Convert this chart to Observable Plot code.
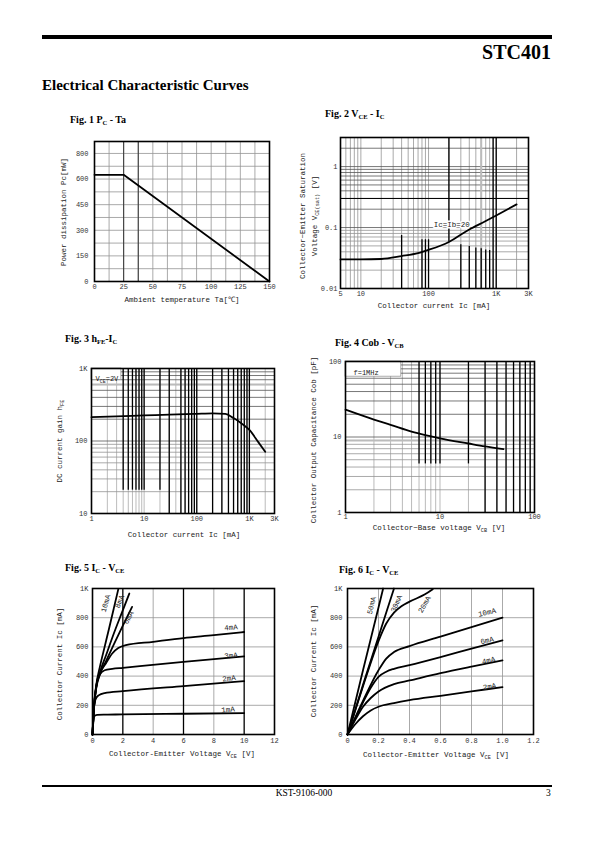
<!DOCTYPE html>
<html><head><meta charset="utf-8">
<script src="https://cdn.jsdelivr.net/npm/d3@7"></script>
<script src="https://cdn.jsdelivr.net/npm/@observablehq/plot@0.6"></script>
<style>
body{margin:0;background:#fff;}
#page{position:relative;width:595px;height:842px;overflow:hidden;font-family:"Liberation Serif",serif;color:#000;background:#fff;}
.abs{position:absolute;white-space:nowrap;line-height:1;}
.bar{position:absolute;background:#000;}
.fig{font-weight:bold;font-size:10px;}
.fig sub{font-size:65%;vertical-align:baseline;position:relative;top:2px;}
.at{font-family:"Liberation Mono","DejaVu Sans Mono",monospace;font-size:7.5px;color:#222;transform:translate(-50%,-50%);}
.at.r{transform:translate(-50%,-50%) rotate(-90deg);}
.at sub{font-size:70%;vertical-align:baseline;position:relative;top:1.5px;}
</style></head>
<body><div id="page"></div>
<script>
// ---------- Fig 1  Pc - Ta ----------
const fig1Ta = [0, 25, 150];
const fig1Pc = [625, 625, 0];
const fig1XTicks = [0, 25, 50, 75, 100, 125, 150];
const fig1XLabels = ["0", "25", "50", "75", "100", "125", "150"];
const fig1YTicks = [0, 150, 300, 450, 600, 750];
const fig1YLabels = ["0", "150", "300", "450", "600", "800"];

// ---------- Fig 2  VCE(sat) - IC ----------
const fig2Ic = [5, 10, 20, 40, 70, 100, 200, 400, 700, 1000, 2000];
const fig2Vce = [0.030, 0.030, 0.0305, 0.034, 0.038, 0.043, 0.058, 0.093, 0.128, 0.158, 0.24];
const fig2XTicks = [5, 10, 100, 1000, 3000];
const fig2XLabels = ["5", "10", "100", "1K", "3K"];
const fig2YTicks = [0.01, 0.1, 1];
const fig2YLabels = ["0.01", "0.1", "1"];
const fig2CurveLabel = ["Ic=Ib=20"];
const fig2CurveLabelIc = [220];
const fig2CurveLabelV = [0.112];
const fig2HeavyX = [40, 80, 90, 100, 200, 300, 400, 500, 600, 700, 800, 900, 1000];
const fig2HeavyLo = [0.01, 0.01, 0.01, 0.01, 0.058, 0.01, 0.01, 0.01, 0.01, 0.01, 0.01, 0.01, 0.01];
const fig2HeavyHi = [0.074, 0.063, 0.063, 0.063, 3, 0.052, 0.049, 0.046, 0.045, 0.043, 0.042, 3, 3];

// ---------- Fig 3  hFE - IC ----------
const fig3Ic = [1, 3, 10, 30, 100, 200, 350, 500, 700, 1000, 1500, 2000];
const fig3Hfe = [213, 218, 225, 231, 237, 240, 237, 207, 176, 142, 95, 71];
const fig3XTicks = [1, 10, 100, 1000, 3000];
const fig3XLabels = ["1", "10", "100", "1K", "3K"];
const fig3YTicks = [10, 100, 1000];
const fig3YLabels = ["10", "100", "1K"];
const fig3Note = ["V{CE}=2V"];
const fig3BoxX = [1, 3.7];
const fig3BoxY = [690, 1000];
const fig3HeavyPartialX = [4, 5, 6, 7, 8, 9, 10, 20];
const fig3HeavyFullX = [30, 50, 60, 70, 80, 90, 100, 200, 300, 400, 500, 600, 700, 800, 900, 1000];

// ---------- Fig 4  Cob - VCB ----------
const fig4Vcb = [1, 2, 3, 5, 7, 10, 20, 30, 47];
const fig4Cob = [23, 17, 14.5, 11.8, 10.6, 9.6, 8.2, 7.5, 6.9];
const fig4XTicks = [1, 10, 100];
const fig4XLabels = ["1", "10", "100"];
const fig4YTicks = [1, 10, 100];
const fig4YLabels = ["1", "10", "100"];
const fig4Note = ["f=1MHz"];
const fig4BoxX = [1, 3.9];
const fig4BoxY = [63, 100];
const fig4HeavyPartialX = [6, 7, 8, 9, 10, 20];
const fig4HeavyFullX = [30, 40, 50, 60, 70, 80, 90];

// ---------- Fig 5  IC - VCE (0..12 V) ----------
const fig5Series = ["1mA", "2mA", "3mA", "4mA", "6mA", "8mA", "10mA"];
const fig5Vce = [
  [0, 0.05, 0.12, 0.3, 1, 2, 6, 10],
  [0, 0.05, 0.1, 0.2, 0.4, 0.8, 2, 6, 10],
  [0, 0.1, 0.2, 0.3, 0.45, 0.8, 1.3, 2, 6, 10],
  [0, 0.1, 0.25, 0.5, 0.9, 1.3, 1.7, 2.2, 4, 6, 8, 10],
  [0, 0.1, 0.25, 0.5, 0.9, 1.4, 2.0, 2.61],
  [0, 0.1, 0.25, 0.5, 0.9, 1.4, 1.9, 2.43],
  [0, 0.1, 0.25, 0.5, 0.8, 1.1, 1.4, 1.7]
];
const fig5Ic = [
  [0, 80, 125, 135, 136, 138, 142, 147],
  [0, 120, 190, 240, 268, 284, 297, 332, 365],
  [0, 180, 290, 360, 405, 440, 450, 457, 497, 535],
  [0, 190, 325, 420, 490, 555, 592, 612, 635, 660, 680, 702],
  [0, 190, 320, 415, 505, 615, 745, 874],
  [0, 190, 335, 430, 545, 690, 825, 966],
  [0, 195, 340, 470, 600, 730, 862, 995]
];
const fig5XTicks = [0, 2, 4, 6, 8, 10, 12];
const fig5XLabels = ["0", "2", "4", "6", "8", "10", "12"];
const fig5YTicks = [0, 200, 400, 600, 800, 1000];
const fig5YLabels = ["0", "200", "400", "600", "800", "1K"];
const fig5LabelText = ["10mA", "8mA", "6mA", "4mA", "3mA", "2mA", "1mA"];
const fig5LabelV = [0.87, 1.79, 2.38, 9.13, 9.13, 9.0, 8.93];
const fig5LabelI = [897, 911, 801, 733, 541, 384, 171];
const fig5LabelRot = [-74, -68, -62, -6, -6, -6, -5];

// ---------- Fig 6  IC - VCE (0..1.2 V) ----------
const fig6Series = ["2mA", "4mA", "6mA", "10mA", "20mA", "30mA", "50mA"];
const fig6Vce = [
  [0, 0.05, 0.1, 0.15, 0.2, 0.3, 0.4, 0.6, 0.8, 1.0],
  [0, 0.05, 0.1, 0.15, 0.2, 0.3, 0.4, 0.6, 0.8, 1.0],
  [0, 0.05, 0.1, 0.15, 0.2, 0.25, 0.3, 0.4, 0.6, 0.8, 1.0],
  [0, 0.1, 0.2, 0.25, 0.3, 0.4, 0.6, 0.8, 1.0],
  [0, 0.1, 0.2, 0.25, 0.3, 0.35, 0.4, 0.5, 0.55],
  [0, 0.1, 0.2, 0.3],
  [0, 0.1, 0.2, 0.23]
];
const fig6Ic = [
  [0, 70, 125, 165, 190, 215, 235, 265, 295, 325],
  [0, 100, 190, 250, 295, 345, 370, 420, 465, 508],
  [0, 110, 220, 320, 395, 430, 450, 475, 530, 588, 645],
  [0, 230, 440, 520, 565, 605, 670, 735, 800],
  [0, 330, 640, 760, 835, 880, 910, 960, 995],
  [0, 340, 670, 1000],
  [0, 440, 870, 1000]
];
const fig6XTicks = [0, 0.2, 0.4, 0.6, 0.8, 1.0, 1.2];
const fig6XLabels = ["0", "0.2", "0.4", "0.6", "0.8", "1.0", "1.2"];
const fig6YTicks = [0, 200, 400, 600, 800, 1000];
const fig6YLabels = ["0", "200", "400", "600", "800", "1K"];
const fig6LabelText = ["50mA", "30mA", "20mA", "10mA", "6mA", "4mA", "2mA"];
const fig6LabelV = [0.155, 0.316, 0.497, 0.90, 0.90, 0.91, 0.916];
const fig6LabelI = [884, 897, 890, 836, 644, 507, 329];
const fig6LabelRot = [-76, -66, -60, -12, -12, -12, -9];

// ================== rendering ==================
const page = document.getElementById("page");
const MONO = "Liberation Mono, DejaVu Sans Mono, monospace";

function html(cls, left, top, content, extra) {
  const d = document.createElement("div");
  d.className = "abs " + cls;
  d.style.left = left + "px"; d.style.top = top + "px";
  if (extra) Object.assign(d.style, extra);
  d.innerHTML = content;
  page.appendChild(d);
  return d;
}
function bar(l, t, w, h) {
  const d = document.createElement("div");
  d.className = "bar";
  Object.assign(d.style, {left: l + "px", top: t + "px", width: w + "px", height: h + "px"});
  page.appendChild(d);
}
function logGrid(lo, hi) {
  const out = [];
  for (let e = Math.floor(Math.log10(lo)); e <= Math.ceil(Math.log10(hi)); e++)
    for (let m = 1; m < 10; m++) {
      const v = +(m * Math.pow(10, e)).toPrecision(3);
      if (v >= lo * 0.999 && v <= hi * 1.001) out.push(v);
    }
  return out;
}
// x tick labels drawn as a text mark anchored to the frame bottom
function xLabels(ticks, labels, pad) {
  return Plot.text(ticks, {x: d => d, frameAnchor: "bottom", dy: pad, lineAnchor: "top", text: (d, i) => labels[i], fontSize: 7, fill: "#333"});
}
function axY(ticks, labels, pad) {
  return Plot.axisY({ticks, tickFormat: d => labels[ticks.indexOf(d)], tickSize: 0, tickPadding: pad, label: null});
}
function series(names, xs, ys) {
  return names.flatMap((s, i) => xs[i].map((x, j) => ({s, x, y: ys[i][j]})));
}
function zip(keys, ...arrs) {
  return arrs[0].map((_, i) => Object.fromEntries(keys.map((k, j) => [k, arrs[j][i]])));
}
function chart(frame, x, y, marks) {
  const [fx, fy, fw, fh] = frame;
  const ml = 40, mt = 6, mr = 8, mb = 20;
  const svg = Plot.plot({
    width: fw + ml + mr, height: fh + mt + mb,
    marginLeft: ml, marginTop: mt, marginRight: mr, marginBottom: mb,
    x: {...x, axis: null}, y,
    style: {fontFamily: MONO, fontSize: "7px", color: "#333", background: "none", overflow: "visible"},
    marks
  });
  svg.style.position = "absolute";
  svg.style.left = (fx - ml) + "px";
  svg.style.top = (fy - mt) + "px";
  svg.querySelectorAll("text").forEach(t => {
    const m = t.textContent.match(/^(.*?)\{(.*?)\}(.*)$/);
    if (m) t.innerHTML = `${m[1]}<tspan dy="1.5" font-size="5">${m[2]}</tspan><tspan dy="-1.5">${m[3]}</tspan>`;
  });
  page.appendChild(svg);
}
const GRAY = "#949494", DARK = "#555";
const LW = 1.8;
const frameMark = () => Plot.frame({stroke: "#000", strokeWidth: 1.6});

// ---- page header/footer ----
bar(42, 35, 510, 4);
html("", 0, 42, "STC401", {width: "551px", textAlign: "right", fontSize: "20px", fontWeight: "bold"});
html("", 42, 78, "Electrical Characteristic Curves", {fontSize: "15px", fontWeight: "bold"});
bar(42, 785, 510, 2);
html("", 254, 789, "KST-9106-000", {width: "100px", textAlign: "center", fontSize: "9.5px"});
html("", 546, 789, "3", {fontSize: "9.5px"});

// ---- figure titles ----
html("fig", 70, 115, "Fig. 1 P<sub>C</sub> - Ta");
html("fig", 325, 109, "Fig. 2 V<sub>CE</sub> - I<sub>C</sub>");
html("fig", 65, 334, "Fig. 3 h<sub>FE</sub>-I<sub>C</sub>");
html("fig", 335, 338, "Fig. 4 Cob - V<sub>CB</sub>");
html("fig", 65, 563, "Fig. 5 I<sub>C</sub> - V<sub>CE</sub>");
html("fig", 339, 565, "Fig. 6 I<sub>C</sub> - V<sub>CE</sub>");

// ---- axis titles ----
html("at r", 65, 212, "Power dissipation Pc[mW]");
html("at", 182, 301, "Ambient temperature Ta[℃]");
html("at r", 304, 216, "Collector−Emitter Saturation");
html("at r", 316, 216, "Voltage V<sub>CE(sat)</sub> [V]");
html("at", 434, 307, "Collector current Ic [mA]");
html("at r", 61, 441, "DC current gain h<sub>FE</sub>");
html("at", 184, 536, "Collector current Ic [mA]");
html("at r", 315, 440, "Collector Output Capacitance Cob [pF]");
html("at", 439, 529, "Collector−Base voltage V<sub>CB</sub> [V]");
html("at r", 61, 664, "Collector Current Ic [mA]");
html("at", 182, 755, "Collector-Emitter Voltage V<sub>CE</sub> [V]");
html("at r", 315, 661, "Collector Current Ic [mA]");
html("at", 436, 756, "Collector-Emitter Voltage V<sub>CE</sub> [V]");

// ---- Fig 1 ----
chart([94, 141, 175, 140],
  {domain: [0, 150]}, {domain: [0, 820]},
  [
    Plot.ruleX(d3.range(0, 151, 12.5), {stroke: GRAY, strokeWidth: 0.8}),
    Plot.ruleY(d3.range(0, 801, 75), {stroke: GRAY, strokeWidth: 0.8}),
    Plot.ruleX([25, 37.5], {stroke: "#333", strokeWidth: 1}),
    frameMark(),
    Plot.line(zip(["x", "y"], fig1Ta, fig1Pc), {x: "x", y: "y", stroke: "#000", strokeWidth: LW}),
    xLabels(fig1XTicks, fig1XLabels, 3),
    axY(fig1YTicks, fig1YLabels, 6)
  ]);

// ---- Fig 2 ----
{
  const gx = logGrid(5, 3000), gy = logGrid(0.01, 3);
  chart([340, 137, 188, 151],
    {type: "log", domain: [5, 3000]}, {type: "log", domain: [0.01, 3]},
    [
      Plot.ruleX(gx, {stroke: GRAY, strokeWidth: 0.8}),
      Plot.ruleY(gy.filter(v => v < 0.1), {stroke: GRAY, strokeWidth: 0.8}),
      Plot.ruleY(gy.filter(v => v >= 0.1), {stroke: DARK, strokeWidth: 0.8}),
      Plot.ruleX([600], {stroke: "#bbb", strokeWidth: 2}),
      Plot.ruleY([0.3], {stroke: "#000", strokeWidth: 1}),
      Plot.ruleX(zip(["x", "y1", "y2"], fig2HeavyX, fig2HeavyLo, fig2HeavyHi), {x: "x", y1: "y1", y2: "y2", stroke: "#000", strokeWidth: 1.3}),
      frameMark(),
      Plot.line(zip(["x", "y"], fig2Ic, fig2Vce), {x: "x", y: "y", curve: "monotone-x", stroke: "#000", strokeWidth: LW}),
      Plot.text(zip(["t", "x", "y"], fig2CurveLabel, fig2CurveLabelIc, fig2CurveLabelV), {x: "x", y: "y", text: "t", fontSize: 7.5, fill: "#222", stroke: "white", strokeWidth: 3, paintOrder: "stroke"}),
      xLabels(fig2XTicks, fig2XLabels, 3),
      axY(fig2YTicks, fig2YLabels, 3)
    ]);
}

// ---- Fig 3 ----
{
  const gx = logGrid(1, 3000), gy = logGrid(10, 1000);
  chart([91, 368, 183, 145],
    {type: "log", domain: [1, 3000]}, {type: "log", domain: [10, 1000]},
    [
      Plot.ruleX(gx, {stroke: "#aaa", strokeWidth: 0.8}),
      Plot.ruleY(gy.filter(v => v < 100), {stroke: GRAY, strokeWidth: 0.8}),
      Plot.ruleY(gy.filter(v => v >= 100), {stroke: DARK, strokeWidth: 0.8}),
      Plot.ruleY([600], {stroke: "#bbb", strokeWidth: 2}),
      Plot.ruleX(fig3HeavyPartialX, {y1: 21, y2: 1000, stroke: "#000", strokeWidth: 1.3}),
      Plot.ruleX(fig3HeavyFullX, {stroke: "#000", strokeWidth: 1.3}),
      Plot.rect([{x1: fig3BoxX[0], x2: fig3BoxX[1], y1: fig3BoxY[0], y2: fig3BoxY[1]}], {x1: "x1", x2: "x2", y1: "y1", y2: "y2", fill: "white", stroke: "#777", strokeWidth: 0.6}),
      frameMark(),
      Plot.line(zip(["x", "y"], fig3Ic, fig3Hfe), {x: "x", y: "y", curve: "monotone-x", stroke: "#000", strokeWidth: LW}),
      Plot.text(fig3Note, {frameAnchor: "top-left", dx: 4, dy: 8, textAnchor: "start", text: d => d, fontSize: 7, fill: "#222"}),
      xLabels(fig3XTicks, fig3XLabels, 3),
      axY(fig3YTicks, fig3YLabels, 4)
    ]);
}

// ---- Fig 4 ----
{
  const gx = logGrid(1, 100), gy = logGrid(1, 100);
  chart([345, 361, 189, 151],
    {type: "log", domain: [1, 100]}, {type: "log", domain: [1, 100]},
    [
      Plot.ruleX(gx, {stroke: "#aaa", strokeWidth: 0.8}),
      Plot.ruleY(gy.filter(v => v < 10), {stroke: GRAY, strokeWidth: 0.8}),
      Plot.ruleY(gy.filter(v => v >= 10), {stroke: DARK, strokeWidth: 0.8}),
      Plot.ruleY([9], {stroke: "#bbb", strokeWidth: 2}),
      Plot.ruleX(fig4HeavyPartialX, {y1: 4.4, y2: 100, stroke: "#000", strokeWidth: 1.3}),
      Plot.ruleX(fig4HeavyFullX, {stroke: "#000", strokeWidth: 1.3}),
      Plot.rect([{x1: fig4BoxX[0], x2: fig4BoxX[1], y1: fig4BoxY[0], y2: fig4BoxY[1]}], {x1: "x1", x2: "x2", y1: "y1", y2: "y2", fill: "white", stroke: "#777", strokeWidth: 0.6}),
      frameMark(),
      Plot.line(zip(["x", "y"], fig4Vcb, fig4Cob), {x: "x", y: "y", curve: "monotone-x", stroke: "#000", strokeWidth: LW}),
      Plot.text(fig4Note, {frameAnchor: "top-left", dx: 8, dy: 9, textAnchor: "start", text: d => d, fontSize: 7, fill: "#222"}),
      xLabels(fig4XTicks, fig4XLabels, 2),
      axY(fig4YTicks, fig4YLabels, 4)
    ]);
}

// ---- Fig 5 ----
chart([92, 588, 182, 146],
  {domain: [0, 12]}, {domain: [0, 1000]},
  [
    Plot.ruleY([200, 400, 600, 800], {stroke: GRAY, strokeWidth: 0.8}),
    Plot.ruleX([4, 8], {stroke: GRAY, strokeWidth: 0.8}),
    Plot.ruleX([2, 6, 10], {stroke: "#000", strokeWidth: 1.3}),
    frameMark(),
    Plot.line(series(fig5Series, fig5Vce, fig5Ic), {x: "x", y: "y", z: "s", curve: "monotone-x", stroke: "#000", strokeWidth: LW}),
    Plot.text(zip(["t", "x", "y", "r"], fig5LabelText, fig5LabelV, fig5LabelI, fig5LabelRot), {x: "x", y: "y", text: "t", rotate: "r", fontSize: 7.5, fill: "#222"}),
    xLabels(fig5XTicks, fig5XLabels, 4),
    axY(fig5YTicks, fig5YLabels, 4)
  ]);

// ---- Fig 6 ----
chart([347, 588, 186, 146],
  {domain: [0, 1.2]}, {domain: [0, 1000]},
  [
    Plot.ruleY([200, 400, 600, 800], {stroke: GRAY, strokeWidth: 0.8}),
    Plot.ruleX([0.2, 0.4, 0.6, 0.8, 1.0], {stroke: GRAY, strokeWidth: 0.8}),
    frameMark(),
    Plot.line(series(fig6Series, fig6Vce, fig6Ic), {x: "x", y: "y", z: "s", curve: "monotone-x", stroke: "#000", strokeWidth: LW}),
    Plot.text(zip(["t", "x", "y", "r"], fig6LabelText, fig6LabelV, fig6LabelI, fig6LabelRot), {x: "x", y: "y", text: "t", rotate: "r", fontSize: 7.5, fill: "#222"}),
    xLabels(fig6XTicks, fig6XLabels, 4),
    axY(fig6YTicks, fig6YLabels, 5)
  ]);
</script>
</body></html>
